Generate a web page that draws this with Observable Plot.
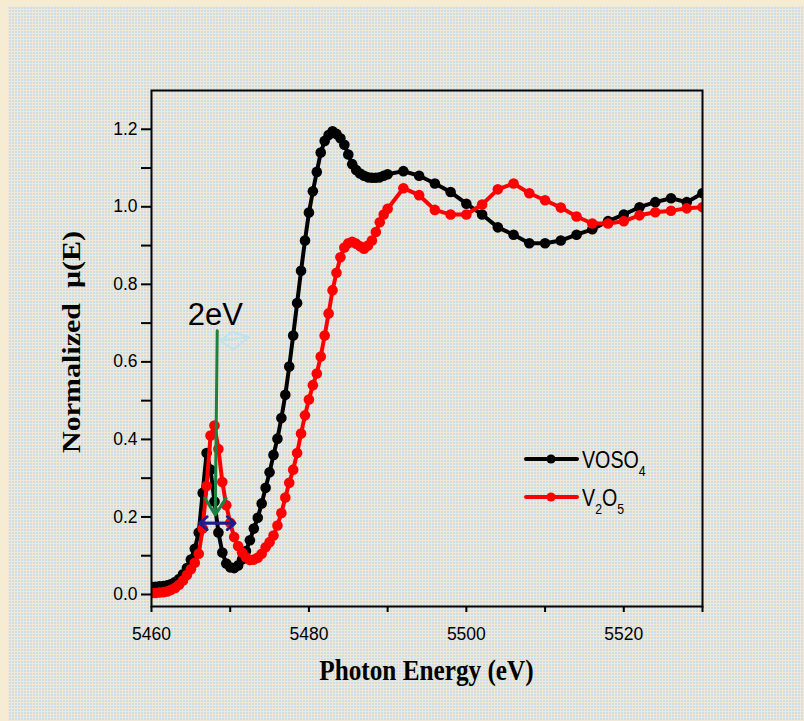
<!DOCTYPE html>
<html>
<head>
<meta charset="utf-8">
<script src="https://cdn.jsdelivr.net/npm/d3@7"></script>
<script src="https://cdn.jsdelivr.net/npm/@observablehq/plot@0.6"></script>
<style>
  html, body { margin: 0; padding: 0; }
  body {
    width: 804px; height: 721px; position: relative; overflow: hidden;
    background: #f6ecd3;
    font-family: "Liberation Sans", Arial, sans-serif;
  }
  /* textured slide panel behind the chart */
  #panel {
    position: absolute; left: 8px; top: 6px; right: 0; bottom: 0;
    background-color: #cddde8;
    background-image:
      linear-gradient(90deg, #f1e9d5 1px, transparent 1px),
      linear-gradient(#f1e9d5 1px, transparent 1px);
    background-size: 3px 3px;
  }
  #chart { position: absolute; left: 0; top: 0; width: 804px; height: 721px; }
  #overlay { position: absolute; left: 0; top: 0; pointer-events: none; }
</style>
</head>
<body>
<div id="panel"></div>
<div id="chart"></div>
<svg id="overlay" width="804" height="721"></svg>
<script>
// Photon energy grid (eV): 0.5 eV steps through the edge, 2 eV steps beyond
const energy = [
  5460, 5460.5, 5461, 5461.5, 5462, 5462.5, 5463, 5463.5, 5464, 5464.5,
  5465, 5465.5, 5466, 5466.5, 5467, 5467.5, 5468, 5468.5, 5469, 5469.5,
  5470, 5470.5, 5471, 5471.5, 5472, 5472.5, 5473, 5473.5, 5474, 5474.5,
  5475, 5475.5, 5476, 5476.5, 5477, 5477.5, 5478, 5478.5, 5479, 5479.5,
  5480, 5480.5, 5481, 5481.5, 5482, 5482.5, 5483, 5483.5, 5484, 5484.5,
  5485, 5485.5, 5486, 5486.5, 5487, 5487.5, 5488, 5488.5, 5489, 5489.5,
  5490, 5492, 5494, 5496, 5498, 5500, 5502, 5504, 5506, 5508,
  5510, 5512, 5514, 5516, 5518, 5520, 5522, 5524, 5526, 5528, 5530
];

// Normalized absorption, VOSO4
const voso4 = [
  0.020, 0.020, 0.021, 0.022, 0.024, 0.027, 0.032, 0.040, 0.052, 0.068,
  0.090, 0.118, 0.160, 0.262, 0.365, 0.322, 0.240, 0.160, 0.108, 0.080,
  0.070, 0.068, 0.075, 0.090, 0.112, 0.140, 0.170, 0.198, 0.235, 0.275,
  0.315, 0.360, 0.402, 0.455, 0.515, 0.588, 0.668, 0.752, 0.835, 0.913,
  0.985, 1.040, 1.090, 1.140, 1.170, 1.185, 1.195, 1.188, 1.177, 1.160,
  1.135, 1.110, 1.095, 1.086, 1.080, 1.076, 1.075, 1.075, 1.076, 1.080,
  1.084, 1.092, 1.080, 1.060, 1.038, 1.008, 0.980, 0.947, 0.928, 0.906,
  0.906, 0.913, 0.928, 0.942, 0.963, 0.980, 0.999, 1.012, 1.022, 1.012, 1.035
];

// Normalized absorption, V2O5
const v2o5 = [
  0.004, 0.004, 0.005, 0.006, 0.008, 0.012, 0.017, 0.025, 0.036, 0.050,
  0.065, 0.082, 0.105, 0.170, 0.280, 0.410, 0.436, 0.375, 0.290, 0.230,
  0.185, 0.148, 0.125, 0.108, 0.096, 0.089, 0.090, 0.095, 0.105, 0.122,
  0.135, 0.152, 0.178, 0.210, 0.250, 0.288, 0.322, 0.365, 0.415, 0.462,
  0.503, 0.540, 0.570, 0.614, 0.668, 0.725, 0.785, 0.830, 0.870, 0.895,
  0.906, 0.910, 0.905, 0.898, 0.892, 0.900, 0.913, 0.935, 0.960, 0.980,
  0.995, 1.048, 1.030, 0.992, 0.980, 0.980, 1.006, 1.045, 1.060, 1.035,
  1.017, 0.998, 0.975, 0.957, 0.957, 0.963, 0.978, 0.986, 0.990, 0.996, 0.999
];

// Axis ticks
const xTicks = [5460, 5470, 5480, 5490, 5500, 5510, 5520, 5530];
const yTicks = [0, 0.1, 0.2, 0.3, 0.4, 0.5, 0.6, 0.7, 0.8, 0.9, 1.0, 1.1, 1.2];

// Pre-edge peak annotation (data units)
const shiftLabel = "2eV";
const shiftLabelAt = [5468.1, 0.72];
const downArrow = [5468.35, 0.68, 5468.1, 0.205];          // x1, y1, x2, y2
const widthSpan = [5466.1, 5470.6, 0.184];                  // from, to, level
const ghostKiteX = [5468.69, 5470.27, 5472.38, 5470.44, 5468.69, 5472.38];
const ghostKiteY = [0.655, 0.677, 0.664, 0.632, 0.655, 0.664];

const rows = (ys) => energy.map((e, i) => ({e, mu: ys[i]}));
const blackRows = rows(voso4);
const redRows = rows(v2o5);

const chart = Plot.plot({
  width: 804,
  height: 721,
  marginLeft: 151,
  marginRight: 102,
  marginTop: 90,
  marginBottom: 115,
  style: {
    background: "transparent",
    fontFamily: "'Liberation Sans', Arial, sans-serif",
    color: "#000",
    overflow: "visible",
    maxWidth: "none"
  },
  x: {domain: [5460, 5530]},
  y: {domain: [-0.031, 1.3]},
  marks: [
    Plot.axisX({
      ticks: xTicks, tickSize: 6, tickPadding: 15, strokeWidth: 2,
      fontSize: 17.5, label: null,
      tickFormat: (d) => (d % 20 === 0 ? String(d) : "")
    }),
    Plot.axisY({
      ticks: yTicks, tickSize: 10, tickPadding: 4, strokeWidth: 2,
      fontSize: 17.5, label: null,
      tickFormat: (d) => (Math.round(d * 10) % 2 === 0 ? d.toFixed(1) : "")
    }),
    // VOSO4
    Plot.line(blackRows, {x: "e", y: "mu", stroke: "#000", strokeWidth: 4, clip: true}),
    Plot.dot(blackRows, {x: "e", y: "mu", r: 5.3, fill: "#000", stroke: "none", clip: true}),
    // V2O5
    Plot.line(redRows, {x: "e", y: "mu", stroke: "#ff0000", strokeWidth: 4, clip: true}),
    Plot.dot(redRows, {x: "e", y: "mu", r: 5.3, fill: "#ff0000", stroke: "none", clip: true}),
    // pre-edge shift annotation
    Plot.line(ghostKiteX.map((x, i) => ({x, y: ghostKiteY[i]})), {
      x: "x", y: "y", stroke: "#bfe3ee", strokeWidth: 2
    }),
    Plot.arrow([{x1: downArrow[0], y1: downArrow[1], x2: downArrow[2], y2: downArrow[3]}], {
      x1: "x1", y1: "y1", x2: "x2", y2: "y2",
      stroke: "#1d7f40", strokeWidth: 3, headLength: 10, headAngle: 64
    }),
    Plot.arrow([
      {x1: widthSpan[0], x2: widthSpan[1], y: widthSpan[2]},
      {x1: widthSpan[1], x2: widthSpan[0], y: widthSpan[2]}
    ], {
      x1: "x1", x2: "x2", y1: "y", y2: "y",
      stroke: "#1c1c8c", strokeWidth: 2.8, headLength: 5.4, headAngle: 80
    }),
    Plot.text([shiftLabel], {
      x: () => shiftLabelAt[0], y: () => shiftLabelAt[1], text: (d) => d,
      fontSize: 31, fill: "#000", textAnchor: "middle"
    }),
    Plot.frame({stroke: "#000", strokeWidth: 2})
  ]
});
document.getElementById("chart").append(chart);

// Axis titles and legend
const ov = d3.select("#overlay");
const serif = "'Liberation Serif', 'Times New Roman', serif";

ov.append("text")
  .attr("transform", "translate(426.5,680) scale(0.87,1)")
  .attr("text-anchor", "middle")
  .attr("font-family", serif).attr("font-weight", "bold").attr("font-size", 29)
  .attr("fill", "#000")
  .text("Photon Energy (eV)");

ov.append("text")
  .attr("transform", "translate(80,342) rotate(-90) scale(1,0.87)")
  .attr("text-anchor", "middle")
  .attr("font-family", serif).attr("font-weight", "bold").attr("font-size", 30)
  .attr("fill", "#000")
  .text("Normalized\u00a0\u00a0\u03bc(E)");

const legendItems = [
  {color: "#000", parts: [["VOSO", false], ["4", true]], y: 459},
  {color: "#ff0000", parts: [["V", false], ["2", true], ["O", false], ["5", true]], y: 497}
];
for (const item of legendItems) {
  ov.append("line")
    .attr("x1", 526).attr("x2", 577).attr("y1", item.y).attr("y2", item.y)
    .attr("stroke", item.color).attr("stroke-width", 4).attr("stroke-linecap", "round");
  ov.append("circle").attr("cx", 551).attr("cy", item.y).attr("r", 4.6).attr("fill", item.color);
  const t = ov.append("text")
    .attr("transform", `translate(582,${item.y + 9}) scale(0.82,1)`)
    .attr("font-family", "'Liberation Sans', Arial, sans-serif")
    .attr("font-size", 24).attr("fill", "#000");
  let shifted = false;
  for (const [s, sub] of item.parts) {
    const ts = t.append("tspan").text(s);
    if (sub) { ts.attr("font-size", 15).attr("dy", shifted ? 0 : 8); shifted = true; }
    else { if (shifted) { ts.attr("dy", -8); shifted = false; } }
  }
}
</script>
</body>
</html>
